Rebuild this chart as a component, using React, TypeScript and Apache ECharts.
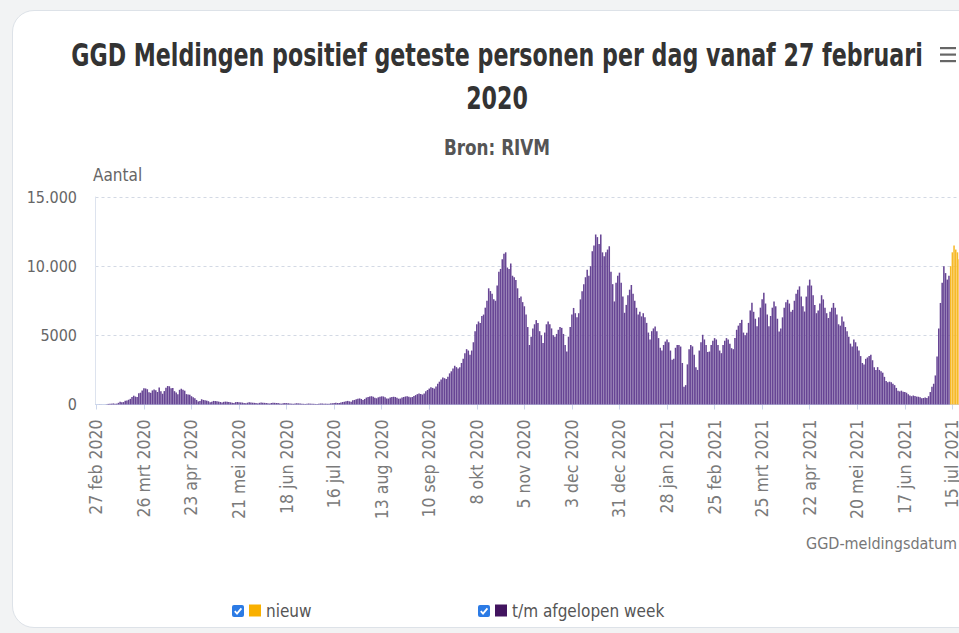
import React, { useEffect, useRef } from "react";
import * as echarts from "echarts";

const START_DATE = Date.UTC(2020, 1, 27);
const MONTHS_NL = ["jan", "feb", "mrt", "apr", "mei", "jun", "jul", "aug", "sep", "okt", "nov", "dec"];
const DAY_COUNT = 509;

// daily counts "t/m afgelopen week", from 27 feb 2020 (rows of 7 days, Thu..Wed)
const PAST_WEEKS = [
  1, 1, 5, 3, 8, 6, 14,
  44, 46, 60, 77, 56, 61, 121,
  190, 155, 176, 278, 292, 346, 409,
  534, 637, 573, 545, 811, 852, 1019,
  1172, 1159, 1104, 884, 845, 1019, 1083,
  1026, 904, 1224, 952, 777, 969, 1213,
  1335, 1316, 1174, 1188, 964, 867, 734,
  1061, 1140, 1066, 1000, 750, 729, 708,
  600, 520, 450, 330, 220, 260, 380,
  330, 300, 280, 240, 170, 200, 260,
  250, 230, 210, 180, 150, 190, 210,
  200, 180, 160, 130, 110, 170, 180,
  170, 150, 140, 110, 90, 130, 160,
  150, 130, 120, 100, 80, 120, 140,
  130, 120, 110, 90, 70, 110, 130,
  120, 110, 100, 80, 60, 90, 110,
  100, 90, 80, 60, 50, 70, 90,
  80, 70, 60, 50, 40, 60, 70,
  60, 60, 50, 40, 40, 60, 70,
  70, 60, 60, 50, 60, 80, 90,
  110, 120, 110, 100, 150, 180, 200,
  240, 260, 230, 200, 300, 330, 380,
  420, 440, 400, 330, 400, 500, 540,
  580, 600, 560, 480, 450, 520, 560,
  590, 580, 520, 440, 430, 500, 540,
  560, 540, 480, 420, 430, 500, 540,
  580, 600, 560, 520, 540, 620, 680,
  750, 800, 760, 720, 800, 950, 1050,
  1150, 1250, 1200, 1150, 1300, 1500, 1650,
  1800, 1950, 1900, 1850, 2000, 2250, 2400,
  2600, 2800, 2700, 2600, 2700, 3000, 3300,
  3700, 4000, 3900, 3600, 3900, 4500, 5300,
  5800, 6000, 5900, 6400, 6500, 7000, 7500,
  8400, 8200, 8000, 7600, 7500, 8600, 9600,
  9800, 10500, 10900, 11000, 9900, 9800, 10200,
  9300, 9200, 9000, 8400, 7700, 7800, 7400,
  7100, 6500, 5600, 4300, 4900, 5500, 5800,
  6100, 5900, 5300, 5000, 4450, 5200, 5800,
  6000, 5800, 5500, 5000, 4900, 5100, 5400,
  5600, 5540, 5100, 4300, 3830, 4900, 5600,
  6500, 6980, 6600, 6300, 6600, 7600, 8180,
  8700, 9200, 9750, 9300, 10000, 11080, 11500,
  12290, 12100, 11600, 12290, 11000, 10720, 11000,
  11200, 11440, 9600, 8700, 7450, 8800, 9300,
  9530, 8800, 7800, 6630, 7200, 7900, 8300,
  8640, 8000, 7500, 6990, 6500, 6700, 6370,
  6600, 6300, 5900, 5200, 4700, 5300, 5500,
  5640, 5300, 4800, 4100, 3900, 4300, 4550,
  4700, 4500, 3900, 3230, 3300, 4100, 4300,
  4300, 4190, 3000, 1290, 1400, 2900, 4000,
  4310, 4200, 3600, 2700, 2500, 3900, 4500,
  5040, 4700, 4300, 3800, 3830, 4300, 4600,
  4800, 4700, 4300, 3900, 3710, 4300, 4600,
  4800, 4700, 4400, 4070, 4000, 4800, 5400,
  5700, 5900, 6120, 5200, 5000, 5180, 5900,
  6800, 7350, 6700, 6200, 5650, 6300, 7000,
  7600, 8070, 7300, 6500, 5650, 6400, 7000,
  7450, 7100, 6200, 5280, 5500, 6300, 7000,
  7400, 7570, 7300, 6700, 6840, 7500, 8000,
  8300, 8540, 7800, 7100, 6720, 7800, 8600,
  9030, 8600, 7900, 7200, 6600, 6800, 7300,
  7900, 7600, 7000, 6600, 6250, 6700, 7000,
  7340, 7000, 6500, 5800, 5700, 6370, 6000,
  5600, 5300, 4900, 4400, 4200, 4700, 4500,
  4200, 3900, 3500, 3000, 2900, 3300, 3400,
  3500, 3590, 3200, 2700, 2500, 2700, 2500,
  2400, 2300, 2000, 1700, 1600, 1650, 1600,
  1500, 1400, 1200, 1000, 950, 1000, 930,
  900, 850, 750, 650, 600, 650, 620,
  570, 560, 520, 450, 470, 500, 470,
  600, 900, 1290, 1500, 2100, 3470, 5500,
  7340, 8800, 10000, 9500, 9030, 9300,
];

// newest days ("nieuw"), following the last purple day
const NEW_DAYS = [10000, 11000, 11500, 11200, 11000, 10500];

const Y_TICKS = [0, 5000, 10000, 15000];
const Y_TICK_LABELS = ["0", "5000", "10.000", "15.000"];

const TITLE_LINES = ["GGD Meldingen positief geteste personen per dag vanaf 27 februari", "2020"];
const SUBTITLE = "Bron: RIVM";

const FONT = "'DejaVu Sans Condensed', 'DejaVu Sans', sans-serif";

const categories = Array.from({ length: DAY_COUNT }, (_, i) => {
  const d = new Date(START_DATE + i * 86400000);
  return `${d.getUTCDate()} ${MONTHS_NL[d.getUTCMonth()]} ${d.getUTCFullYear()}`;
});

export default function App() {
  const ref = useRef<HTMLDivElement>(null);

  useEffect(() => {
    if (!ref.current) return;
    const chart = echarts.init(ref.current, undefined, { renderer: "svg" });
    const pastData = categories.map((_, i) => (i < PAST_WEEKS.length ? PAST_WEEKS[i] : null));
    const newData = categories.map((_, i) =>
      i >= PAST_WEEKS.length && i - PAST_WEEKS.length < NEW_DAYS.length ? NEW_DAYS[i - PAST_WEEKS.length] : null
    );

    const checkbox = (x: number, y: number) => ({
      type: "group",
      children: [
        { type: "rect", shape: { x, y, width: 12, height: 12, r: 2 }, style: { fill: "#2c7be5" } },
        {
          type: "polyline",
          shape: { points: [[x + 2.8, y + 6.2], [x + 5, y + 8.6], [x + 9.4, y + 3.4]] },
          style: { stroke: "#ffffff", lineWidth: 1.8, fill: "none" },
        },
      ],
    });

    const titleText = (text: string, y: number, size: number, scaleX: number, color: string) => ({
      type: "text",
      x: 497,
      y,
      scaleX,
      style: {
        text,
        fontFamily: FONT,
        fontSize: size,
        fontWeight: "bold",
        fill: color,
        align: "center",
        verticalAlign: "middle",
      },
    });

    chart.setOption({
      animation: false,
      backgroundColor: "transparent",
      legend: [
        {
          data: [{ name: "nieuw", itemStyle: { color: "#f9b000" } }],
          left: 249,
          top: 602,
          padding: 0,
          icon: "rect",
          itemWidth: 12,
          itemHeight: 12,
          selectedMode: false,
          textStyle: { fontFamily: FONT, fontSize: 17, color: "#555555" },
        },
        {
          data: [{ name: "t/m afgelopen week", itemStyle: { color: "#42145f" } }],
          left: 495,
          top: 602,
          padding: 0,
          icon: "rect",
          itemWidth: 12,
          itemHeight: 12,
          selectedMode: false,
          textStyle: { fontFamily: FONT, fontSize: 17, color: "#555555" },
        },
      ],
      grid: { left: 95.5, top: 197, width: 864.5, height: 207.5, containLabel: false },
      xAxis: {
        type: "category",
        data: categories,
        boundaryGap: true,
        axisLine: { show: true, lineStyle: { color: "#ccd6eb", width: 1 } },
        axisTick: { show: true, interval: 27, alignWithLabel: true, length: 5, lineStyle: { color: "#ccd6eb" } },
        axisLabel: {
          interval: 27,
          rotate: 90,
          margin: 15,
          fontFamily: FONT,
          fontSize: 17.5,
          color: "#7a7a7a",
        },
        splitLine: { show: false },
      },
      yAxis: {
        type: "value",
        min: 0,
        max: 15000,
        interval: 5000,
        axisLine: { show: true, lineStyle: { color: "#dde3ee", width: 1 } },
        axisTick: { show: false },
        axisLabel: {
          margin: 18.5,
          fontFamily: FONT,
          fontSize: 16,
          color: "#666666",
          formatter: (v: number) => {
            const idx = Y_TICKS.indexOf(v);
            return idx >= 0 ? Y_TICK_LABELS[idx] : String(v);
          },
        },
        splitLine: { show: true, lineStyle: { color: "#d3d9e4", type: [3, 3], width: 1 } },
      },
      series: [
        {
          name: "nieuw",
          type: "bar",
          stack: "total",
          data: newData,
          barCategoryGap: "10%",
          itemStyle: { color: "#f7b928" },
        },
        {
          name: "t/m afgelopen week",
          type: "bar",
          stack: "total",
          data: pastData,
          barCategoryGap: "10%",
          itemStyle: { color: "#674594" },
        },
      ],
      graphic: [
        titleText(TITLE_LINES[0], 55, 32, 0.77, "#333333"),
        titleText(TITLE_LINES[1], 98, 32, 0.77, "#333333"),
        titleText(SUBTITLE, 147, 22, 0.85, "#555555"),
        {
          type: "text",
          x: 93,
          y: 175,
          style: { text: "Aantal", fontFamily: FONT, fontSize: 17, fill: "#666666", align: "left", verticalAlign: "middle" },
        },
        {
          type: "text",
          x: 806,
          y: 543,
          style: { text: "GGD-meldingsdatum", fontFamily: FONT, fontSize: 16, fill: "#777777", align: "left", verticalAlign: "middle" },
        },
        { type: "rect", shape: { x: 940, y: 47, width: 16, height: 2.2 }, style: { fill: "#666666" } },
        { type: "rect", shape: { x: 940, y: 53.5, width: 16, height: 2.2 }, style: { fill: "#666666" } },
        { type: "rect", shape: { x: 940, y: 60, width: 16, height: 2.2 }, style: { fill: "#666666" } },
        checkbox(232, 605),
        checkbox(478, 605),
      ],
    });
    return () => chart.dispose();
  }, []);

  return (
    <div style={{ position: "fixed", left: 0, top: 0, width: "100vw", height: "100vh", overflow: "hidden", background: "#f2f3f4" }}>
      <div
        style={{
          position: "absolute",
          left: 12,
          top: 10,
          width: 1010,
          height: 618,
          background: "#ffffff",
          border: "1px solid #dde2e8",
          borderRadius: 22,
          boxSizing: "border-box",
        }}
      />
      <div ref={ref} style={{ position: "absolute", left: 0, top: 0, width: 994, height: 633 }} />
    </div>
  );
}
